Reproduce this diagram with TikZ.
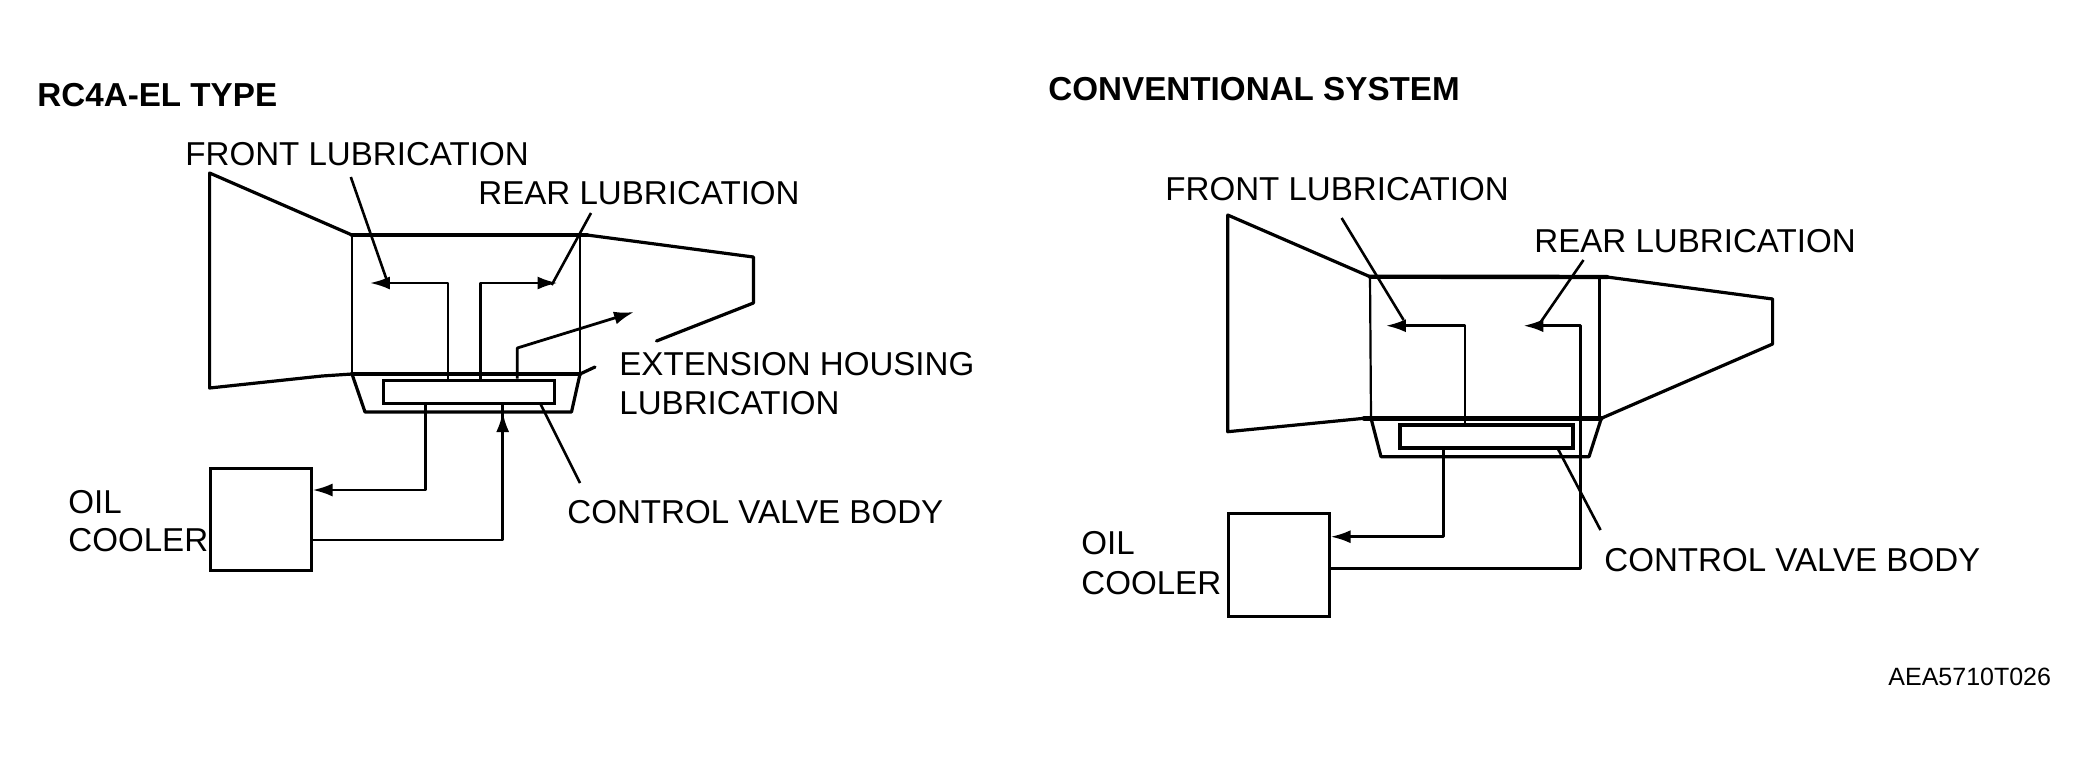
\documentclass[tikz,border=0pt]{standalone}
\usepackage{fontspec}
\setmainfont{Liberation Sans}
\usetikzlibrary{arrows.meta}
\tikzset{
  lbl/.style={anchor=west,inner sep=0pt,font=\fontsize{16.55}{18}\selectfont},
  ttl/.style={anchor=west,inner sep=0pt,font=\fontsize{16.6}{18}\selectfont\bfseries},
  codeid/.style={anchor=west,inner sep=0pt,font=\fontsize{12.5}{14}\selectfont},
  heavy/.style={line width=2.2pt,line join=round,line cap=round},
  body/.style={line width=1.6pt,line join=round,line cap=round},
  thinline/.style={line width=1.1pt,line join=round},
  pipe/.style={line width=1.4pt,line join=round},
  leader/.style={line width=1.3pt},
  flow/.style={pipe,-{Latex[length=10pt,width=6.5pt]}},
  boxy/.style={draw,line width=1.5pt,inner sep=0pt,minimum width=#1},
}
\begin{document}
\begin{tikzpicture}[x=0.5pt,y=-0.5pt]
\useasboundingbox (0,0) rectangle (2086,762);
% ---------- left diagram
\node[ttl] (t1) at (37,95) {RC4A-EL TYPE};
\node[lbl] (f1) at (185,154) {FRONT LUBRICATION};
\node[lbl] (r1) at (478,193) {REAR LUBRICATION};
\node[lbl] (e1) at (619,364) {EXTENSION HOUSING};
\node[lbl] (e2) at (619,403) {LUBRICATION};
\node[lbl] (c1) at (567,512) {CONTROL VALVE BODY};
\node[lbl] (o1) at (68,502) {OIL};
\node[lbl] (o2) at (68,540) {COOLER};
\coordinate (a1) at (209.6,173);
\coordinate (a2) at (352,235);
\coordinate (a3) at (587,235);
\coordinate (a4) at (753.4,257);
\coordinate (a5) at (753.4,303);
\coordinate (a6) at (656.5,341);
\coordinate (a7) at (209.6,388);
\coordinate (a8) at (322,376);
\coordinate (a9) at (352,374);
\coordinate (a10) at (580,374);
\coordinate (a11) at (595,367);
\coordinate (a12) at (580,235);
\coordinate (p1) at (365,412);
\coordinate (p2) at (571.5,412);
\draw[body] (a6) -- (a5) -- (a4) -- (a3);
\draw[body] (a2) -- (a1) -- (a7) -- (a8) -- (a9);
\draw[heavy] (a2) -- (a3);
\draw[heavy] (a9) -- (a10);
\draw[body] (a10) -- (a11);
\draw[thinline] (a2) -- (a9);
\draw[thinline] (a12) -- (a10);
\draw[body] (a9) -- (p1) -- (p2) -- (a10);
\node[boxy=85.5pt,minimum height=11.5pt] (v1) at (469.2,391.5) {};
\coordinate (t1a) at (448,283);
\coordinate (t1b) at (369.8,283);
\coordinate (t2a) at (480.5,283);
\coordinate (t2b) at (557.6,283);
\coordinate (t3a) at (517.3,348);
\coordinate (t3b) at (634,312);
\draw[flow] (v1.north -| t1a) -- (t1a) -- (t1b);
\draw[flow] (v1.north -| t2a) -- (t2a) -- (t2b);
\draw[flow] (v1.north -| t3a) -- (t3a) -- (t3b);
\node[draw,line width=1.5pt,inner sep=0pt,minimum width=50.5pt,minimum height=51pt] (k1) at (260.5,519) {};
\coordinate (d1) at (425.6,490);
\coordinate (d2) at (502.7,540);
\coordinate (d3) at (502.7,412);
\draw[flow] (v1.south -| d1) -- (d1) -- (k1.east |- d1);
\draw[pipe] (k1.east |- d2) -- (d2) -- (v1.south -| d2);
\draw[flow] (d2) -- (d3);
\coordinate (l1) at (350.8,177);
\coordinate (l2) at (386.4,279);
\coordinate (l3) at (591,213);
\coordinate (l4) at (551.7,285);
\coordinate (l5) at (540,403);
\coordinate (l6) at (580,483);
\draw[leader] (l1) -- (l2);
\draw[leader] (l3) -- (l4);
\draw[leader] (l5) -- (l6);
% ---------- right diagram
\node[ttl] (t2) at (1048,89) {CONVENTIONAL SYSTEM};
\node[lbl] (f2) at (1165,189) {FRONT LUBRICATION};
\node[lbl] (r2) at (1534,241) {REAR LUBRICATION};
\node[lbl] (c2) at (1604,560) {CONTROL VALVE BODY};
\node[lbl] (o3) at (1081,543) {OIL};
\node[lbl] (o4) at (1081,583) {COOLER};
\node[codeid] (cd) at (1888,677) {AEA5710T026};
\coordinate (b1) at (1227.7,215);
\coordinate (b2) at (1370,276.7);
\coordinate (b3) at (1607,277);
\coordinate (b4) at (1772.6,299);
\coordinate (b5) at (1772.6,344);
\coordinate (b6) at (1601.3,418.3);
\coordinate (b7) at (1227.7,431.7);
\coordinate (b8) at (1364,418.3);
\coordinate (b9) at (1371,418.3);
\coordinate (b10) at (1599.4,277);
\coordinate (b11) at (1599.4,418.3);
\coordinate (q1) at (1381,456.7);
\coordinate (q2) at (1589,456.7);
\draw[body] (b6) -- (b5) -- (b4) -- (b3);
\draw[body] (b2) -- (b1) -- (b7) -- (b8);
\draw[heavy] (b2) -- (b3);
\draw[heavy] (b8) -- (b6);
\draw[thinline] (b2) -- (b9);
\draw[thinline] (b10) -- (b11);
\draw[body] (b9) -- (q1) -- (q2) -- (b6);
\node[boxy=86.5pt,minimum height=11.5pt,line width=2.2pt] (v2) at (1486.7,436.5) {};
\coordinate (u1a) at (1465,325.7);
\coordinate (u1b) at (1385.8,325.7);
\coordinate (u2a) at (1580.4,325.7);
\coordinate (u2b) at (1523.4,325.7);
\coordinate (u2c) at (1580.4,568.3);
\draw[flow] (v2.north -| u1a) -- (u1a) -- (u1b);
\node[draw,line width=1.5pt,inner sep=0pt,minimum width=50.5pt,minimum height=51.5pt] (k2) at (1278.5,565) {};
\coordinate (w1) at (1443.5,536.7);
\draw[flow] (v2.south -| w1) -- (w1) -- (k2.east |- w1);
\draw[flow] (k2.east |- u2c) -- (u2c) -- (u2a) -- (u2b);
\coordinate (m1) at (1341.6,218);
\coordinate (m2) at (1403.6,320);
\coordinate (m3) at (1583.5,260);
\coordinate (m4) at (1540,323);
\coordinate (m5) at (1558,449);
\coordinate (m6) at (1600.5,530);
\draw[leader] (m1) -- (m2);
\draw[leader] (m3) -- (m4);
\draw[leader] (m5) -- (m6);
\end{tikzpicture}
\end{document}
